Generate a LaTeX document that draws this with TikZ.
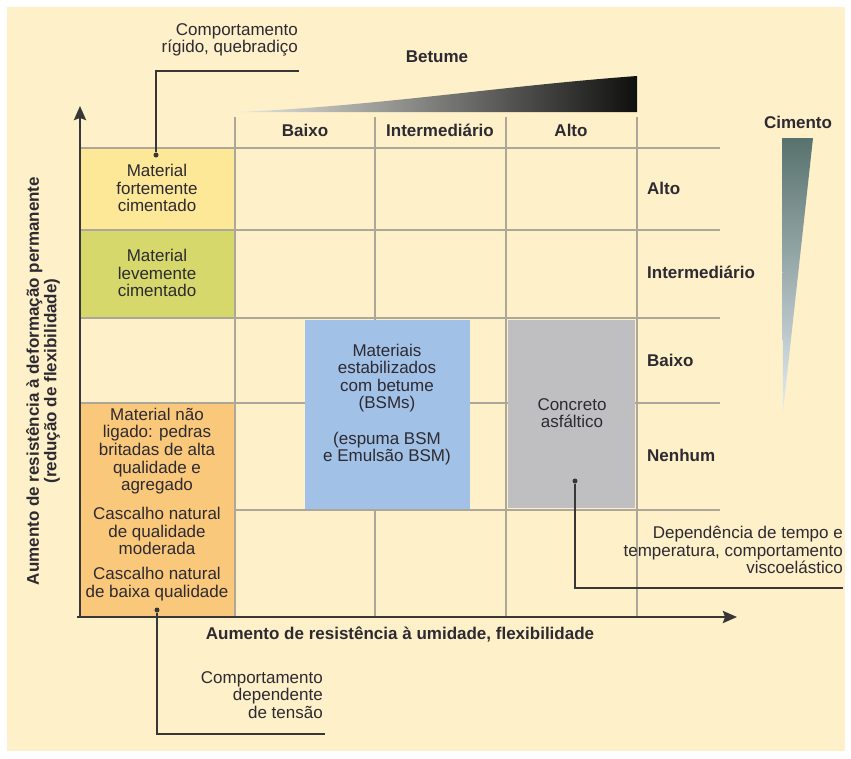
\documentclass[tikz,border=0pt]{standalone}
\usepackage{fontspec}
\setmainfont{Liberation Sans}
\usetikzlibrary{arrows.meta}
\definecolor{bg}{RGB}{254,240,201}
\definecolor{gridc}{RGB}{172,167,152}
\definecolor{axisc}{RGB}{55,55,55}
\definecolor{txt}{RGB}{45,42,50}
\definecolor{yel}{RGB}{253,232,152}
\definecolor{grn}{RGB}{214,216,108}
\definecolor{ora}{RGB}{250,200,122}
\definecolor{blu}{RGB}{162,193,230}
\definecolor{gry}{RGB}{191,191,193}
\definecolor{cemtop}{RGB}{88,114,110}
\definecolor{cembot}{RGB}{228,236,242}
\definecolor{bitl}{RGB}{232,232,226}
\definecolor{bitr}{RGB}{15,15,15}
\tikzset{
  every node/.style={inner sep=0pt, text=txt},
  reg/.style={font=\fontsize{17}{17.6}\selectfont, align=center},
  lbl/.style={font=\bfseries\fontsize{17}{17.6}\selectfont, align=center},
  gridline/.style={draw=gridc, line width=2.8pt},
  axisline/.style={draw=axisc, line width=2.6pt, -{Stealth[length=14pt,width=12pt,inset=2pt]}},
  callout/.style={draw=axisc, line width=1.6pt},
  dotc/.style={circle, fill=axisc, minimum size=5pt, inner sep=0pt},
}
\begin{document}
\begin{tikzpicture}[x=1pt,y=-1pt]
\path[use as bounding box, fill=white] (0,0) rectangle (851,758);
\fill[bg] (7,7) rectangle (845,751);

% left coloured boxes (under grid)
\fill[yel] (80,148) rectangle (235,230);
\fill[grn] (80,230) rectangle (235,318);

% grid
\foreach \yy in {148,230,318,403,510} \draw[gridline] (80,\yy) -- (720,\yy);
\foreach \xx in {235,375,506,637} \draw[gridline] (\xx,117) -- (\xx,617);

% boxes over grid
\fill[ora] (80,404.4) rectangle (233.6,617);
\fill[blu] (305,320) rectangle (470,508.5);
\fill[gry] (507.6,319.6) rectangle (635.4,508.4);

% bitumen wedge
\shade[left color=bitl, right color=bitr] (237,112) .. controls (380,106) and (500,86) .. (637,76) -- (637,112) -- cycle;
% cement wedge
\shade[top color=cemtop, bottom color=cembot] (782,138) -- (813,138) -- (783,412) -- cycle;

% axes
\coordinate (o) at (80,617);
\coordinate (ytip) at (80,106);
\coordinate (xs) at (77,617);
\coordinate (xtip) at (737,617);
\draw[axisline] (o) -- (ytip);
\draw[axisline] (xs) -- (xtip);

% labels
\node[lbl] (betume) at (437,57) {Betume};
\node[lbl] (cimento) at (798,122) {Cimento};
\node[lbl] (cbaixo) at (305,130) {Baixo};
\node[lbl] (cinter) at (440,130) {Intermediário};
\node[lbl] (calto) at (571,130) {Alto};
\node[lbl, anchor=west] (ralto) at (647,188) {Alto};
\node[lbl, anchor=west] (rinter) at (647,272) {Intermediário};
\node[lbl, anchor=west] (rbaixo) at (647,360) {Baixo};
\node[lbl, anchor=west] (rnenhum) at (647,455) {Nenhum};

\node[lbl] (xlabel) at (400,634) {Aumento de resistência à umidade, flexibilidade};
\node[lbl, rotate=90] (ylabel) at (43,381) {Aumento de resistência à deformação permanente\\(redução de flexibilidade)};

% box texts
\node[reg] (forte) at (157,188) {Material\\fortemente\\cimentado};
\node[reg] (leve) at (157,273) {Material\\levemente\\cimentado};
\node[reg] (naolig) at (157,451) {Material não\\ligado: pedras\\britadas de alta\\qualidade e\\agregado};
\node[reg] (cmod) at (157,531) {Cascalho natural\\de qualidade\\moderada};
\node[reg] (cbaixa) at (157,584) {Cascalho natural\\de baixa qualidade};
\node[reg] (bsm) at (387,404.5) {Materiais\\estabilizados\\com betume\\(BSMs)\\[17.6pt](espuma BSM\\e Emulsão BSM)};
\node[reg] (conc) at (572,413) {Concreto\\asfáltico};

% callouts
\node[reg, align=right, anchor=east] (rigido) at (298,40) {Comportamento\\rígido, quebradiço};
\node[dotc] (d1) at (156,155) {};
\coordinate (c1a) at (156,71);
\coordinate (c1b) at (299,71);
\draw[callout] (d1) -- (c1a) -- (c1b);

\node[reg, align=right, anchor=east] (tensao) at (323,695) {Comportamento\\dependente\\de tensão};
\node[dotc] (d2) at (157,610) {};
\coordinate (c2a) at (157,734);
\coordinate (c2b) at (325,734);
\draw[callout] (d2) -- (c2a) -- (c2b);

\node[reg, align=right, anchor=east] (visco) at (843,550) {Dependência de tempo e\\temperatura, comportamento\\viscoelástico};
\node[dotc] (d3) at (575,481) {};
\coordinate (c3a) at (575,588);
\coordinate (c3b) at (843,588);
\draw[callout] (d3) -- (c3a) -- (c3b);
\end{tikzpicture}
\end{document}
